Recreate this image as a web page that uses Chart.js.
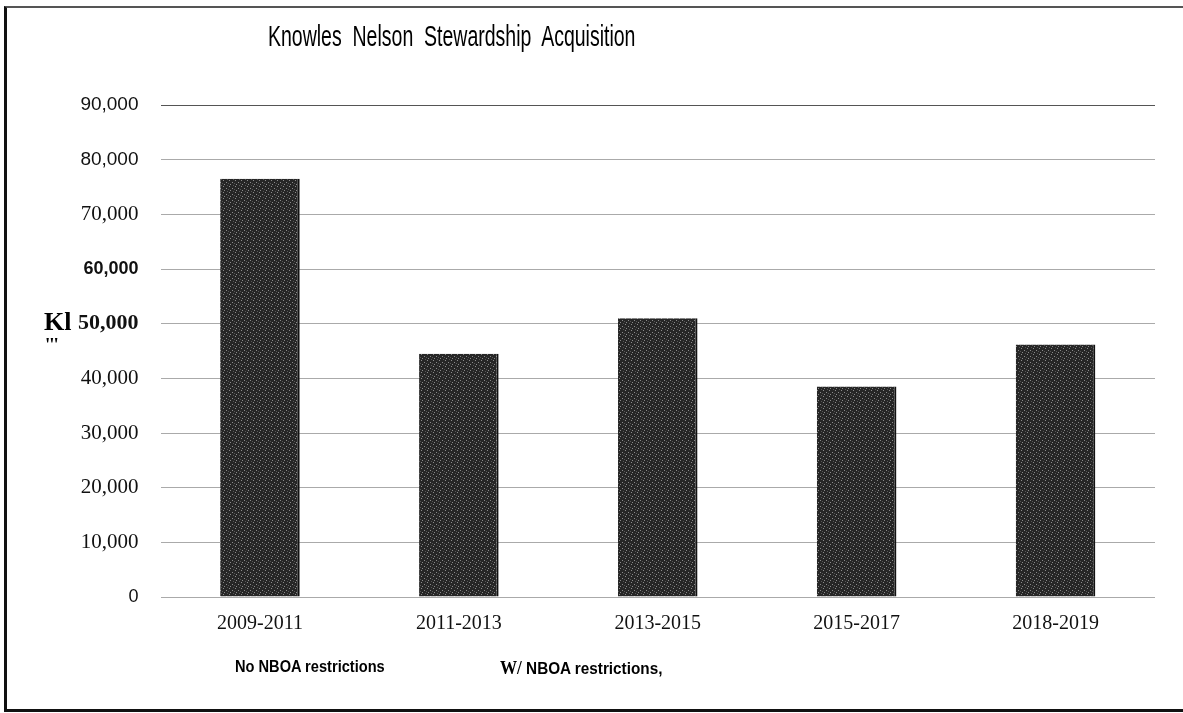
<!DOCTYPE html>
<html>
<head>
<meta charset="utf-8">
<script src="https://cdn.jsdelivr.net/npm/chart.js@4.4.1/dist/chart.umd.min.js"></script>
<style>
  html, body { margin: 0; padding: 0; background: #fff; }
  #wrap { position: relative; width: 1183px; height: 713px; overflow: hidden; }
  #frame {
    position: absolute; left: 4px; top: 6px; width: 1177px; height: 701px;
    border-left: 3px solid #111; border-top: 2px solid #555;
    border-bottom: 3px solid #111; border-right: 1px solid #ddd;
  }
  #chart { position: absolute; left: 0; top: 0; }
  .txt { position: absolute; white-space: nowrap; color: #000; transform-origin: 0 0; }
  #title { left: 268px; top: 19px; font: 30px "Liberation Sans", sans-serif; transform: scaleX(0.65); }
  #note1 { left: 235px; top: 657px; font: bold 17px "Liberation Sans", sans-serif; transform: scaleX(0.86); }
  #note2 { left: 500px; top: 657px; font: bold 17px "Liberation Sans", sans-serif; transform: scaleX(0.9); }
  #note2 b { font-family: "Liberation Serif", serif; font-size: 19px; }
  #ylab1 { left: 44px; top: 307px; font: bold 26px "Liberation Serif", serif; }
  #ylab2 { left: 45px; top: 334px; font: bold 19px "Liberation Serif", serif; letter-spacing: -1px; }
</style>
</head>
<body>
<div id="wrap">
  <div id="frame"></div>
  <canvas id="chart" width="1183" height="713"></canvas>
  <div class="txt" id="title">Knowles&nbsp; Nelson&nbsp; Stewardship&nbsp; Acquisition</div>
  <div class="txt" id="ylab1">Kl</div>
  <div class="txt" id="ylab2">'''</div>
  <div class="txt" id="note1">No NBOA restrictions</div>
  <div class="txt" id="note2"><b>W/</b> NBOA restrictions,</div>
</div>
<script>
const periods = ["2009-2011", "2011-2013", "2013-2015", "2015-2017", "2018-2019"];
const acres = [76500, 44500, 51000, 38500, 46200];
const yTicks = [0, 10000, 20000, 30000, 40000, 50000, 60000, 70000, 80000, 90000];

const sans = "'Liberation Sans', Arial, sans-serif";
const serif = "'Liberation Serif', 'Times New Roman', serif";

function yTickFont(ctx) {
  const v = ctx.tick ? ctx.tick.value : 0;
  if (v === 90000 || v === 80000) return { family: sans, size: 19 };
  if (v === 0) return { family: sans, size: 18 };
  if (v === 60000) return { family: sans, size: 18, weight: "bold" };
  if (v === 50000) return { family: serif, size: 22, weight: "bold" };
  return { family: serif, size: 21 };
}

// speckled dark fill like the scanned bars
function barPattern() {
  const c = document.createElement("canvas");
  c.width = 6;
  c.height = 6;
  const g = c.getContext("2d");
  g.fillStyle = "#262626";
  g.fillRect(0, 0, 6, 6);
  g.fillStyle = "#8a8a8a";
  g.fillRect(1, 0, 1, 1);
  g.fillRect(4, 2, 1, 1);
  g.fillRect(2, 4, 1, 1);
  g.fillStyle = "#555";
  g.fillRect(5, 5, 1, 1);
  g.fillRect(0, 3, 1, 1);
  return g.createPattern(c, "repeat");
}

const ctx = document.querySelector("#chart");

new Chart(ctx, {
  type: "bar",
  data: {
    labels: periods,
    datasets: [
      {
        label: "Acres",
        data: acres,
        backgroundColor: barPattern(),
        borderColor: "#111",
        borderWidth: { right: 2 },
        barPercentage: 0.4,
        categoryPercentage: 1,
      },
    ],
  },
  options: {
    responsive: false,
    animation: false,
    layout: {
      padding: { top: 105, left: 56, right: 28, bottom: 70 },
    },
    plugins: {
      legend: { display: false },
      tooltip: { enabled: false },
      title: { display: false },
    },
    scales: {
      x: {
        grid: { display: false },
        border: { display: false },
        ticks: {
          color: "#111",
          padding: 7,
          font: { family: serif, size: 20 },
        },
      },
      y: {
        min: 0,
        max: 90000,
        afterBuildTicks: (axis) => {
          axis.ticks = yTicks.map((v) => ({ value: v }));
        },
        border: { display: false },
        grid: {
          drawTicks: false,
          color: (c) => (c.tick && c.tick.value === 90000 ? "#555" : "#aaa"),
          lineWidth: 1,
          borderDash: [2, 4],
        },
        ticks: {
          color: "#111",
          padding: 22,
          font: yTickFont,
          callback: (v) => v.toLocaleString("en-US"),
        },
      },
    },
  },
});
</script>
</body>
</html>
